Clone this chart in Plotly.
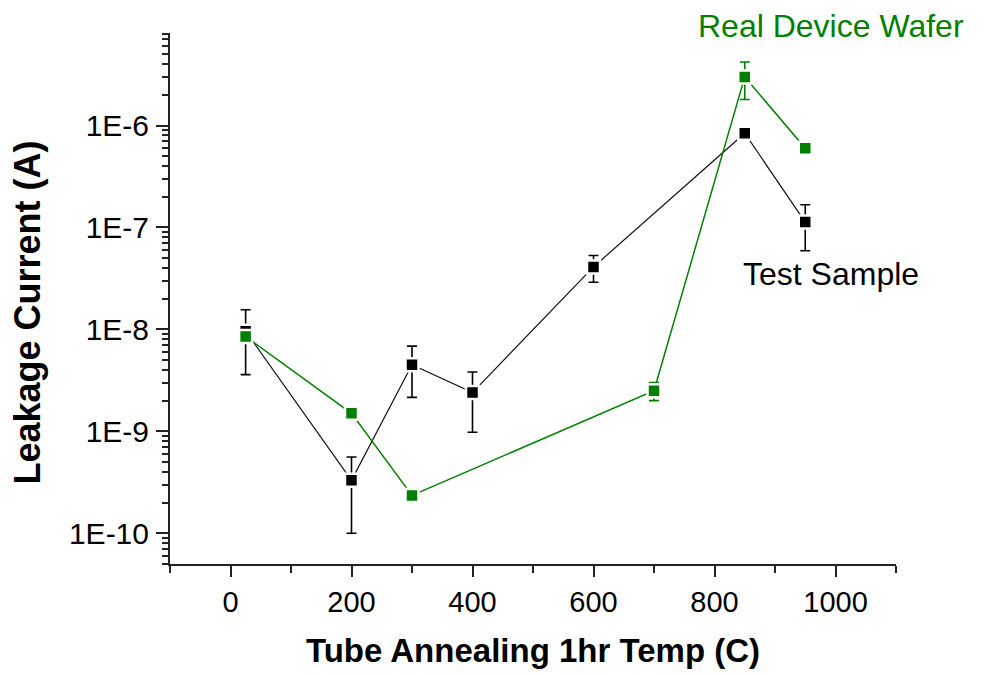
import plotly.graph_objects as go

# Annealing temperature (C) and leakage current (A)
temps_test = [25, 200, 300, 400, 600, 850, 950]
current_test = [9.6e-9, 3.3e-10, 4.5e-9, 2.4e-9, 4.1e-8, 8.4e-7, 1.13e-7]
err_test = [6.0e-9, 2.3e-10, 2.35e-9, 1.42e-9, 1.2e-8, 5.0e-8, 5.4e-8]

temps_wafer = [25, 200, 300, 700, 850, 950]
current_wafer = [8.5e-9, 1.5e-9, 2.35e-10, 2.5e-9, 3.0e-6, 6.0e-7]
err_wafer = [None, None, None, 5.0e-10, 1.2e-6, None]

y_tickvals = [1e-10, 1e-9, 1e-8, 1e-7, 1e-6]
y_ticktext = ["1E-10", "1E-9", "1E-8", "1E-7", "1E-6"]
x_tickvals = [0, 200, 400, 600, 800, 1000]

GREEN = "#008000"
FONT = "Arial, Liberation Sans, sans-serif"

fig = go.Figure()

fig.add_trace(go.Scatter(
    x=temps_test, y=current_test, mode="lines+markers", name="Test Sample",
    line=dict(color="#111111", width=1.2),
    marker=dict(symbol="square", size=13, color="black",
                line=dict(color="white", width=2.5)),
    error_y=dict(type="data", array=err_test, symmetric=True,
                 color="black", thickness=1.6, width=5),
    cliponaxis=False,
))

fig.add_trace(go.Scatter(
    x=temps_wafer, y=current_wafer, mode="lines+markers", name="Real Device Wafer",
    line=dict(color=GREEN, width=1.5),
    marker=dict(symbol="square", size=13, color=GREEN,
                line=dict(color="white", width=2.5)),
    error_y=dict(type="data", array=err_wafer, symmetric=True,
                 color=GREEN, thickness=1.6, width=5),
    cliponaxis=False,
))

# Series labels
fig.add_annotation(x=844, y=-7.46, xref="x", yref="y", text="Test Sample",
                   showarrow=False, xanchor="left", yanchor="middle",
                   font=dict(family=FONT, size=32, color="black"))
fig.add_annotation(x=0.725, y=1.013, xref="paper", yref="paper",
                   text="Real Device Wafer",
                   showarrow=False, xanchor="left", yanchor="middle",
                   font=dict(family=FONT, size=32, color=GREEN))

# Vertical axis title
fig.add_annotation(x=-0.196, y=0.473, xref="paper", yref="paper",
                   text="<b>Leakage Current (A)</b>", textangle=-90,
                   showarrow=False, xanchor="center", yanchor="middle",
                   font=dict(family=FONT, size=36, color="black"))

fig.update_layout(
    width=984, height=675,
    margin=dict(l=170, r=88, t=33, b=107),
    paper_bgcolor="white", plot_bgcolor="white",
    showlegend=False,
    font=dict(family=FONT, color="black"),
    xaxis=dict(
        range=[-100, 1100], tickvals=x_tickvals,
        showgrid=False, zeroline=False,
        showline=True, linecolor="#222222", linewidth=2,
        ticks="outside", ticklen=11, tickwidth=1.5, tickcolor="#222222",
        minor=dict(ticks="outside", ticklen=7, tickwidth=1.5, tickcolor="#222222",
                   tick0=-100, dtick=200, showgrid=False),
        tickfont=dict(family=FONT, size=29),
        ticklabelstandoff=0,
        title=dict(text="<b>Tube Annealing 1hr Temp (C)</b>",
                   font=dict(family=FONT, size=33), standoff=22),
    ),
    yaxis=dict(
        type="log", range=[-10.302, -5.092],
        tickvals=y_tickvals, ticktext=y_ticktext,
        showgrid=False, zeroline=False,
        showline=True, linecolor="#222222", linewidth=2,
        ticks="outside", ticklen=12, tickwidth=1.5, tickcolor="#222222",
        minor=dict(ticks="outside", ticklen=6, tickwidth=1.5, tickcolor="#222222",
                   dtick="D1", showgrid=False),
        tickfont=dict(family=FONT, size=30),
        ticklabelstandoff=1,
    ),
)

fig.write_html("out.html")
